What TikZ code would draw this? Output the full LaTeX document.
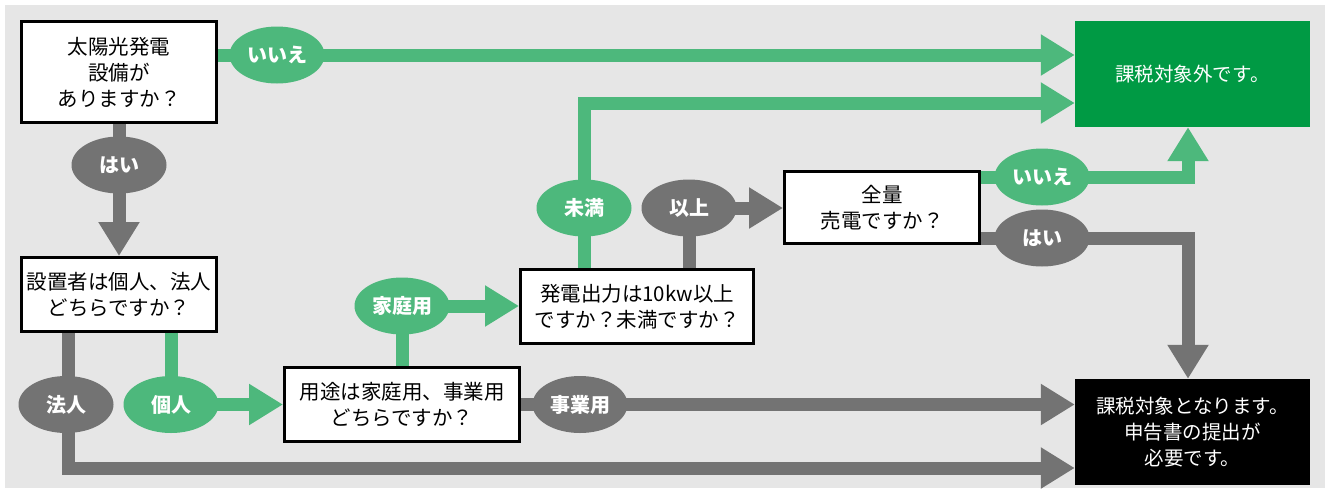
\documentclass[tikz,border=0pt]{standalone}
\usepackage{fontspec}
\setmainfont{Noto Sans CJK JP}
\usetikzlibrary{arrows.meta,shapes.geometric,backgrounds}
\definecolor{lightgreen}{HTML}{4DB87C}
\definecolor{darkgray}{HTML}{737373}
\definecolor{okgreen}{HTML}{009A44}
\definecolor{paper}{HTML}{E6E6E6}
\begin{document}
\begin{tikzpicture}
		[x=1pt,y=-1pt,
		question/.style={draw=black,line width=3pt,fill=white,align=center,
			inner sep=0pt,font=\fontsize{20.5}{26}\selectfont},
		result/.style={align=center,inner sep=0pt,text=white,
			minimum width=235pt,minimum height=106pt,
			font=\fontsize{19.5}{26}\selectfont},
		answer/.style={ellipse,inner sep=0pt,minimum width=95pt,
			minimum height=57pt,text=white,
			font=\fontsize{20}{22}\selectfont\bfseries},
		grayans/.style={answer,fill=darkgray},
		greenans/.style={answer,fill=lightgreen},
		flow/.style={line width=13pt,-{Triangle[length=34pt,width=39pt]}}]
		\useasboundingbox (0,0) rectangle (1325,488);
		\node[question,minimum width=195pt,minimum height=101pt] (solar) at (119,72)
			{太陽光発電\\設備が\\ありますか？};
		\node[question,minimum width=195pt,minimum height=74pt] (owner) at (119,294.5)
			{設置者は個人、法人\\どちらですか？};
		\node[question,minimum width=235pt,minimum height=74pt] (usage) at (402,404.5)
			{用途は家庭用、事業用\\どちらですか？};
		\node[question,minimum width=233pt,minimum height=74pt] (power) at (637,306.5)
			{発電出力は10kw以上\\ですか？未満ですか？};
		\node[question,minimum width=195pt,minimum height=72pt] (sell) at (882,207.5)
			{全量\\売電ですか？};
		\node[result,fill=okgreen] (exempt) at (1192.5,74) {課税対象外です。};
		\node[result,fill=black] (taxed) at (1192.5,432)
			{課税対象となります。\\申告書の提出が\\必要です。};
		\node[greenans] (no1) at (277,55) {いいえ};
		\node[grayans] (yes1) at (119,165) {はい};
		\node[grayans] (corp) at (66,404.5) {法人};
		\node[greenans] (indiv) at (171,404.5) {個人};
		\node[greenans] (home) at (402,306) {家庭用};
		\node[grayans] (biz) at (580,404.5) {事業用};
		\node[greenans] (under) at (584,208) {未満};
		\node[grayans] (over) at (689,208) {以上};
		\node[greenans] (no2) at (1042,177) {いいえ};
		\node[grayans] (yes2) at (1042,238) {はい};
		\coordinate (corpturn) at (68,468);
		\coordinate (underturn) at (584,103);
		\coordinate (noturn) at (1188,177);
		\coordinate (yesturn) at (1188,238);
		\begin{scope}[on background layer]
			\fill[paper] (5,5) rectangle (1325,488);
			\draw[flow,lightgreen] (solar.east |- no1) -- (no1 -| exempt.west);
			\draw[flow,darkgray] (solar) -- (owner);
			\draw[flow,darkgray] (owner.south -| corpturn) -- (corpturn) -- (corpturn -| taxed.west);
			\draw[flow,lightgreen] (owner.south -| indiv) -- (indiv.center) -- (indiv -| usage.west);
			\draw[flow,lightgreen] (usage.north -| home) -- (home.center) -- (home -| power.west);
			\draw[flow,darkgray] (usage.east) -- (usage -| taxed.west);
			\draw[flow,lightgreen] (power.north -| under) -- (underturn) -- (underturn -| exempt.west);
			\draw[flow,darkgray] (power.north -| over) -- (over.center) -- (over -| sell.west);
			\draw[flow,lightgreen] (sell.east |- no2) -- (noturn) -- (noturn |- exempt.south);
			\draw[flow,darkgray] (sell.east |- yes2) -- (yesturn) -- (yesturn |- taxed.north);
		\end{scope}
	\end{tikzpicture}
\end{document}
